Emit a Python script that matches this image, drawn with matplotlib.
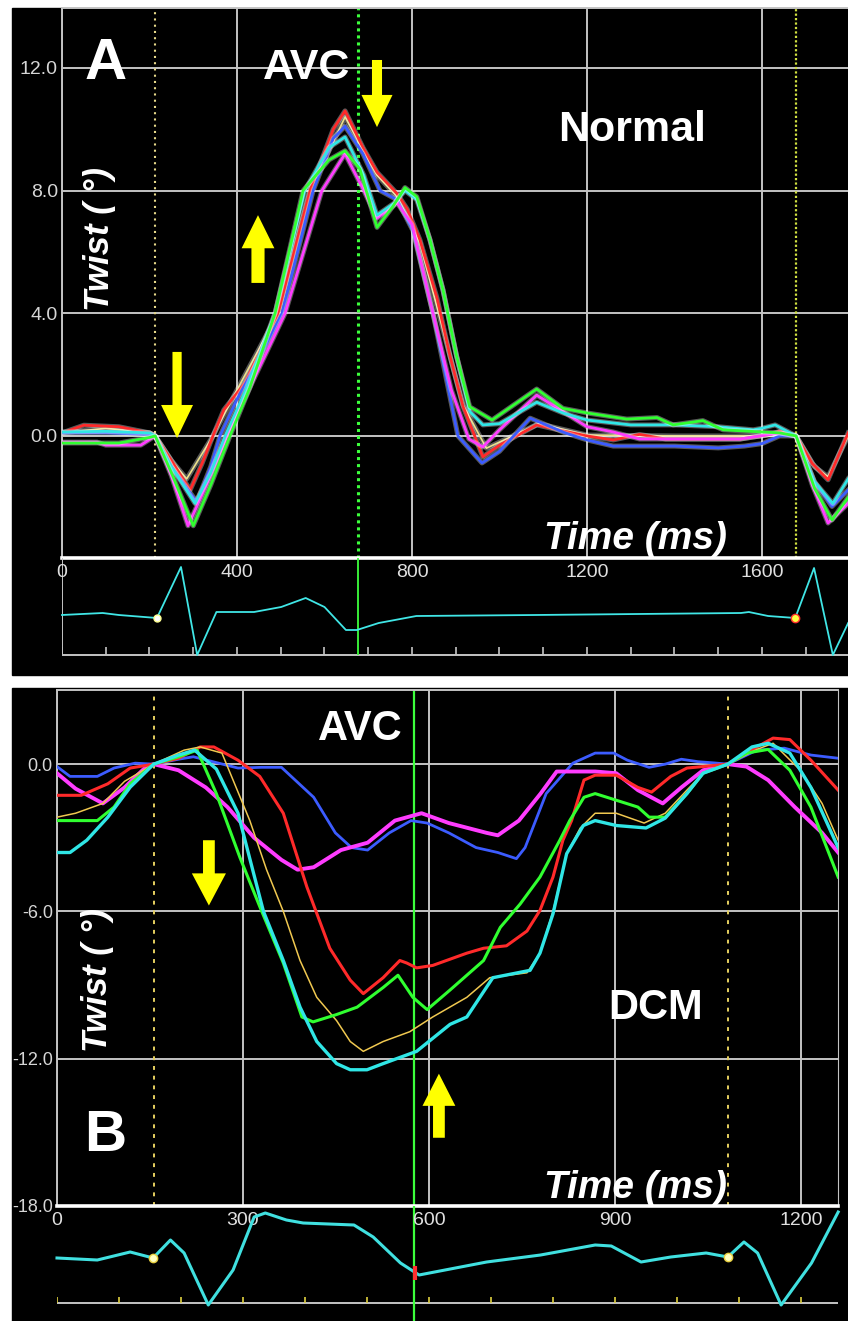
import numpy as np
import matplotlib.pyplot as plt
import matplotlib.patheffects as pe
from matplotlib.patches import Rectangle, FancyArrow

plt.rcParams['font.family'] = ['Liberation Sans', 'DejaVu Sans']

# ---------------- datos panel A (Normal) ----------------
yt_a = [0.0, 4.0, 8.0, 12.0]
xt_a = [0, 400, 800, 1200, 1600]

red_a_t = [0, 50, 130, 200, 213, 250, 293, 320, 345, 370, 400, 418, 494, 567, 620, 647, 688, 720, 766, 789,
           818, 857, 887, 917, 962, 1000, 1085, 1150, 1200, 1260, 1320, 1380, 1450, 1550, 1620, 1640, 1678,
           1715, 1751, 1797]
red_a_v = [0.1, 0.35, 0.3, 0.1, 0.0, -0.8, -1.76, -0.9, 0.0, 0.85, 1.4, 1.73, 4.0, 8.0, 10.0, 10.6, 9.4, 8.6,
           7.9, 7.4, 6.4, 4.5, 2.6, 0.95, -0.68, -0.3, 0.36, 0.15, 0.0, -0.13, 0.05, -0.1, -0.1, -0.1, 0.05,
           0.15, 0.0, -0.9, -1.43, 0.1]

blue_a_t = [0, 100, 200, 213, 250, 308, 340, 361, 400, 450, 503, 574, 620, 647, 688, 727, 766, 802, 848, 905,
            960, 1000, 1070, 1150, 1200, 1260, 1400, 1500, 1560, 1600, 1640, 1678, 1720, 1760, 1797]
blue_a_v = [0.1, 0.1, 0.05, 0.0, -1.0, -2.15, -1.0, 0.0, 1.2, 2.5, 4.0, 8.0, 9.7, 10.1, 9.2, 8.0, 7.7, 6.7,
            4.0, 0.0, -0.88, -0.5, 0.58, 0.1, -0.13, -0.33, -0.33, -0.39, -0.33, -0.25, 0.0, 0.0, -1.5,
            -2.3, -1.76]

cyan_a_t = [0, 100, 200, 213, 250, 304, 340, 373, 420, 487, 555, 610, 647, 690, 720, 760, 784, 811, 841, 871,
            902, 932, 962, 1000, 1085, 1145, 1200, 1300, 1400, 1500, 1580, 1600, 1630, 1678, 1720, 1762, 1797]
cyan_a_v = [0.13, 0.15, 0.1, 0.0, -1.0, -2.2, -1.2, 0.0, 1.5, 4.0, 8.0, 9.4, 9.75, 8.5, 7.2, 7.6, 8.0, 7.7,
            6.4, 4.75, 2.6, 0.8, 0.36, 0.4, 1.1, 0.75, 0.52, 0.36, 0.36, 0.3, 0.2, 0.25, 0.36, 0.0, -1.5,
            -2.2, -1.4]

green_a_t = [0, 130, 200, 213, 250, 300, 340, 384, 430, 487, 551, 610, 647, 681, 720, 757, 784, 811, 841, 871,
             902, 932, 983, 1085, 1145, 1200, 1291, 1360, 1397, 1465, 1511, 1600, 1640, 1678, 1720, 1760, 1797]
green_a_v = [-0.23, -0.23, -0.05, 0.0, -1.2, -2.93, -1.6, 0.0, 1.6, 4.0, 8.0, 9.0, 9.3, 8.7, 6.8, 7.5, 8.1,
             7.8, 6.4, 4.75, 2.6, 0.95, 0.52, 1.53, 0.9, 0.75, 0.55, 0.6, 0.36, 0.5, 0.2, 0.13, 0.1, 0.0,
             -1.7, -2.74, -2.0]

mag_a_t = [0, 80, 100, 180, 213, 250, 288, 330, 377, 420, 510, 594, 647, 690, 720, 766, 800, 848, 890, 930,
           962, 1000, 1085, 1200, 1260, 1320, 1450, 1550, 1640, 1678, 1715, 1751, 1797]
mag_a_v = [-0.2, -0.2, -0.3, -0.3, 0.0, -1.3, -2.93, -1.6, 0.0, 1.3, 4.0, 8.0, 9.2, 8.0, 7.1, 7.6, 6.9, 4.0,
           1.5, -0.1, -0.36, 0.2, 1.33, 0.3, 0.13, -0.1, -0.1, -0.1, 0.1, 0.0, -1.6, -2.84, -2.2]

yel_a_t = [0, 100, 200, 213, 250, 285, 345, 400, 494, 567, 647, 720, 766, 818, 887, 917, 970, 1090, 1200, 1400,
           1600, 1640, 1678, 1720, 1751, 1797]
yel_a_v = [0.1, 0.25, 0.1, 0.0, -0.8, -1.4, 0.0, 1.5, 4.0, 8.0, 10.4, 8.5, 7.8, 6.3, 2.6, 1.0, -0.4, 0.4,
           0.03, 0.0, 0.0, 0.1, 0.0, -1.0, -1.33, 0.0]

ecg_a_t = [0, 93, 130, 217, 272, 309, 353, 439, 501, 557, 600, 649, 674, 724, 810, 1082, 1552, 1570, 1614,
           1676, 1719, 1762, 1797]
ecg_a_v = [0.0, 0.2, 0.0, -0.3, 4.8, -4.0, 0.3, 0.3, 0.8, 1.7, 0.8, -1.5, -1.5, -0.8, -0.1, 0.0, 0.2, 0.3,
           -0.1, -0.3, 4.7, -4.0, -0.8]

# ---------------- datos panel B (DCM) ----------------
yt_b = [-18.0, -12.0, -6.0, 0.0]
xt_b = [0, 300, 600, 900, 1200]

blue_b_t = [0, 21, 65, 92, 126, 156, 196, 220, 292, 330, 362, 414, 449, 475, 501, 536, 571, 597, 632, 676,
            711, 741, 755, 789, 832, 868, 898, 920, 955, 981, 1007, 1034, 1060, 1082, 1129, 1173, 1216, 1260]
blue_b_v = [-0.1, -0.5, -0.5, -0.16, 0.04, 0.0, 0.2, 0.3, -0.16, -0.13, -0.13, -1.35, -2.8, -3.4, -3.5,
            -2.8, -2.3, -2.4, -2.8, -3.4, -3.6, -3.85, -3.4, -1.2, 0.04, 0.45, 0.45, 0.16, -0.13, 0.0, 0.2,
            0.1, 0.05, 0.0, 0.57, 0.65, 0.37, 0.24]

mag_b_t = [0, 30, 74, 109, 144, 156, 196, 240, 275, 318, 362, 388, 414, 458, 501, 545, 588, 632, 693, 711,
           745, 780, 806, 868, 902, 937, 977, 1007, 1042, 1082, 1112, 1147, 1190, 1234, 1260]
mag_b_v = [-0.37, -1.0, -1.6, -0.95, -0.1, 0.0, -0.25, -0.95, -1.75, -3.0, -3.9, -4.3, -4.2, -3.5, -3.2,
           -2.3, -2.0, -2.4, -2.8, -2.9, -2.3, -1.2, -0.3, -0.3, -0.37, -1.06, -1.6, -0.95, -0.25, 0.0,
           -0.1, -0.65, -1.75, -2.8, -3.6]

red_b_t = [0, 39, 82, 118, 156, 196, 231, 253, 292, 327, 365, 403, 440, 473, 494, 526, 553, 564, 580, 606,
           661, 688, 725, 758, 779, 800, 816, 830, 850, 868, 902, 937, 959, 990, 1016, 1082, 1129, 1155, 1182,
           1216, 1260]
red_b_v = [-1.27, -1.27, -0.8, -0.16, 0.0, 0.24, 0.7, 0.7, 0.16, -0.5, -2.0, -5.0, -7.5, -8.8, -9.35, -8.7,
           -8.0, -8.1, -8.3, -8.2, -7.7, -7.5, -7.4, -6.8, -5.96, -4.6, -3.1, -2.3, -0.65, -0.45, -0.45,
           -0.95, -1.14, -0.5, -0.16, 0.0, 0.7, 1.06, 1.0, 0.16, -1.06]

cyan_b_t = [0, 21, 48, 82, 118, 156, 196, 222, 257, 292, 333, 365, 392, 419, 451, 473, 500, 526, 580, 634,
            661, 703, 763, 779, 800, 822, 849, 868, 902, 950, 981, 1016, 1042, 1082, 1121, 1147, 1182, 1216,
            1260]
cyan_b_v = [-3.6, -3.6, -3.1, -2.16, -0.94, 0.0, 0.37, 0.57, -0.2, -2.0, -6.0, -8.0, -9.9, -11.3, -12.2,
            -12.45, -12.45, -12.2, -11.7, -10.6, -10.3, -8.7, -8.4, -7.7, -6.1, -3.65, -2.5, -2.3, -2.5,
            -2.6, -2.2, -1.2, -0.37, 0.0, 0.7, 0.85, 0.45, -0.95, -3.4]

green_b_t = [0, 65, 92, 118, 156, 196, 226, 257, 295, 327, 365, 395, 413, 451, 484, 526, 550, 574, 597, 634,
             688, 715, 747, 779, 811, 827, 850, 868, 902, 937, 955, 981, 1016, 1042, 1082, 1112, 1147, 1182,
             1216, 1260]
green_b_v = [-2.3, -2.3, -1.75, -0.8, 0.0, 0.3, 0.57, -1.2, -3.8, -5.8, -8.1, -10.3, -10.5, -10.2, -9.9,
             -9.1, -8.6, -9.5, -10.0, -9.2, -8.0, -6.65, -5.7, -4.6, -3.1, -2.3, -1.35, -1.2, -1.47, -1.75,
             -2.16, -2.16, -1.2, -0.37, 0.0, 0.45, 0.6, -0.25, -1.75, -4.6]

yel_b_t = [0, 30, 74, 109, 156, 205, 231, 266, 311, 338, 365, 392, 419, 451, 473, 494, 526, 569, 606, 661,
           698, 758, 779, 800, 822, 844, 868, 902, 947, 981, 1016, 1042, 1082, 1129, 1155, 1199, 1234, 1260]
yel_b_v = [-2.16, -2.0, -1.6, -0.7, 0.0, 0.57, 0.7, 0.45, -2.3, -4.3, -6.0, -8.0, -9.5, -10.45, -11.3, -11.7,
           -11.3, -10.9, -10.3, -9.5, -8.7, -8.5, -7.7, -6.0, -3.65, -2.6, -2.0, -2.0, -2.4, -2.0, -1.06,
           -0.37, 0.0, 0.6, 0.85, -0.25, -1.6, -3.1]

ecg_b_t = [0, 65, 118, 155, 183, 205, 244, 284, 318, 336, 370, 397, 479, 510, 554, 584, 693, 780, 868, 894,
           942, 990, 1047, 1082, 1108, 1130, 1168, 1217, 1260]
ecg_b_v = [0.0, -0.2, 0.6, 0.0, 1.8, 0.5, -4.7, -1.2, 4.1, 4.5, 3.8, 3.5, 3.3, 2.1, -0.5, -1.7, -0.4, 0.3,
           1.3, 1.2, -0.4, 0.1, 0.5, 0.1, 1.6, 0.5, -4.7, -0.5, 4.6]

# ---------------- figura ----------------
W, H = 848, 1321
fig = plt.figure(figsize=(W / 100, H / 100), dpi=100, facecolor='white')


def caja(l, t, r, b):
    return [l / W, 1 - b / H, (r - l) / W, (b - t) / H]


fig.add_artist(Rectangle((12 / W, 1 - 675 / H), (W - 12) / W, 667 / H, transform=fig.transFigure,
                         color='black', zorder=0))
fig.add_artist(Rectangle((12 / W, 0), (W - 12) / W, (H - 688) / H, transform=fig.transFigure,
                         color='black', zorder=0))

GRIS = '#c4c4c4'
halo = [pe.Stroke(linewidth=3.6, foreground='white', alpha=0.35), pe.Normal()]


def ejes(ax, xt, yt, right, lsize):
    ax.set_facecolor('none')
    ax.set_xticks(xt)
    ax.set_xticklabels([])
    ax.set_yticks(yt)
    ax.set_yticklabels([f"{v:.1f}" for v in yt])
    ax.tick_params(length=0, pad=3, labelcolor='#d6d6d6', labelsize=lsize)
    ax.grid(True, color=GRIS, lw=1.4)
    for s in ['left', 'top']:
        ax.spines[s].set_color(GRIS)
        ax.spines[s].set_linewidth(1.4)
    ax.spines['right'].set_visible(right)
    ax.spines['right'].set_color(GRIS)
    ax.spines['bottom'].set_color('white')
    ax.spines['bottom'].set_linewidth(2.6)


def flecha(ax, x, y0, y1, ancho, cabeza, largo):
    ax.add_patch(FancyArrow(x, y0, 0, y1 - y0, width=ancho, head_width=cabeza, head_length=largo,
                            length_includes_head=True, color='#ffff00', lw=0, zorder=8, clip_on=False))


# ---- Panel A ----
axA = fig.add_axes(caja(62, 8, 848, 558))
axA.set_xlim(0, 1796.6)
axA.set_ylim(-3.98, 13.955)
ejes(axA, xt_a, yt_a, False, 14)

axA.axvline(213, color='#e6d88a', lw=1.5, ls=(0, (1, 2)), zorder=2)
axA.axvline(677, color='#3cff3c', lw=2.2, ls=(0, (1, 1.3)), zorder=2)
axA.axvline(1678, color='#d0e040', lw=1.6, ls=(0, (1, 1)), zorder=2)

for t, v, c, w in [(yel_a_t, yel_a_v, '#ece08a', 1.2), (red_a_t, red_a_v, '#ff2a2a', 2.0),
                   (blue_a_t, blue_a_v, '#3c5cff', 2.0), (mag_a_t, mag_a_v, '#ff3cff', 2.0),
                   (cyan_a_t, cyan_a_v, '#30e6e6', 2.0), (green_a_t, green_a_v, '#30ff30', 2.0)]:
    axA.plot(t, v, color=c, lw=w, zorder=4, path_effects=halo)

flecha(axA, 263, 2.74, -0.07, 21, 73, 1.08)
flecha(axA, 448, 4.99, 7.2, 30, 75, 1.08)
flecha(axA, 720, 12.26, 10.07, 23, 71, 1.05)

# tira ECG A
sA = fig.add_axes(caja(62, 558, 848, 665))
sA.set_xlim(0, 1796.6)
sA.set_ylim(-5.0, 5.7)
sA.axis('off')
sA.hlines(-4.0, 0, 1796.6, color=GRIS, lw=1.4)
sA.vlines(np.arange(0, 1797, 100), -4.0, -3.2, color=GRIS, lw=1.2)
sA.vlines(0, -4.0, 5.7, color=GRIS, lw=1.4)
sA.vlines(677, -4.0, 5.7, color='#3cff3c', lw=1.3)
for t in xt_a:
    sA.text(t, 5.1, str(t), ha='center', va='top', color='#e0e0e0', fontsize=14)
sA.plot(ecg_a_t, ecg_a_v, color='#40e6e6', lw=1.3, clip_on=False, zorder=3)
sA.plot(217, -0.3, 'o', mfc='white', mec='#ffff90', ms=5, zorder=4)
sA.plot(1676, -0.3, 'o', mfc='#ffff40', mec='#ff3030', ms=6, zorder=4)

# ---- Panel B ----
axB = fig.add_axes(caja(57, 690, 838, 1206))
axB.set_xlim(0, 1259.7)
axB.set_ylim(-18, 3.02)
ejes(axB, xt_b, yt_b, True, 13)

axB.axvline(156, color='#e6d060', lw=1.4, ls=(0, (2, 3)), zorder=2)
axB.axvline(1082, color='#e6d060', lw=1.4, ls=(0, (2, 3)), zorder=2)
axB.axvline(576, color='#3cff3c', lw=1.6, zorder=2)

for t, v, c, w in [(blue_b_t, blue_b_v, '#3c5cff', 2.0), (mag_b_t, mag_b_v, '#ff3cff', 2.8),
                   (red_b_t, red_b_v, '#ff2a2a', 2.2), (yel_b_t, yel_b_v, '#f0c850', 1.1),
                   (green_b_t, green_b_v, '#30ff30', 2.2), (cyan_b_t, cyan_b_v, '#30e6e6', 2.4)]:
    axB.plot(t, v, color=c, lw=w, zorder=4)

flecha(axB, 245, -3.10, -5.76, 19, 55, 1.31)
flecha(axB, 616, -15.22, -12.61, 19, 53, 1.31)

# tira ECG B
sB = fig.add_axes(caja(57, 1206, 838, 1318))
sB.set_xlim(0, 1259.7)
sB.set_ylim(-6.0, 5.2)
sB.axis('off')
sB.hlines(-4.5, 0, 1259.7, color=GRIS, lw=1.4)
sB.vlines(np.arange(0, 1260, 100), -4.5, -3.9, color='#e0d040', lw=1.2)
sB.vlines(576, -6.3, 5.2, color='#3cff3c', lw=1.6, clip_on=False)
for t in xt_b:
    sB.text(t, 4.6, str(t), ha='center', va='top', color='#e0e0e0', fontsize=14)
sB.plot(ecg_b_t, ecg_b_v, color='#40e0e0', lw=2.2, clip_on=False, zorder=3)
sB.plot([155, 1082], [0.0, 0.1], 'o', mfc='#ffffc0', mec='#e8d040', ms=6, zorder=4)
sB.plot(577, -1.5, marker='|', color='#ff3030', ms=10, mew=3, zorder=5)

# ---- textos ----
def texto(x, y, s, size, **kw):
    fig.text(x / W, 1 - y / H, s, fontsize=size, color='white', ha='center', va='center', **kw)


texto(106, 64, 'A', 42, fontweight='bold')
texto(307, 68, 'AVC', 31, fontweight='bold')
texto(632, 130, 'Normal', 31, fontweight='bold')
texto(100, 239, 'Twist ( °)', 25, fontweight='bold', style='italic', rotation=90)
texto(636, 539, 'Time (ms)', 28, fontweight='bold', style='italic')

texto(360, 729, 'AVC', 30, fontweight='bold')
texto(656, 1008, 'DCM', 30, fontweight='bold')
texto(105, 1136, 'B', 42, fontweight='bold')
texto(98, 980, 'Twist ( °)', 25, fontweight='bold', style='italic', rotation=90)
texto(636, 1188, 'Time (ms)', 28, fontweight='bold', style='italic')

plt.savefig('out.png', dpi=100, facecolor='white')
